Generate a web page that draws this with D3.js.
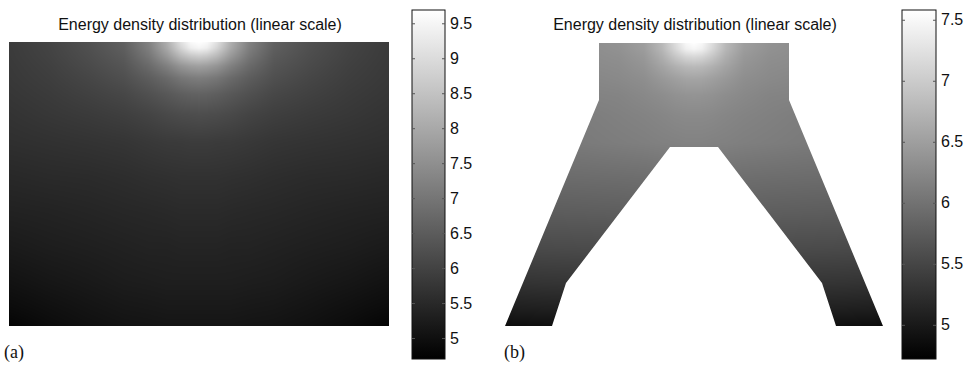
<!DOCTYPE html>
<html>
<head>
<meta charset="utf-8">
<script src="https://cdn.jsdelivr.net/npm/d3@7"></script>
<style>
  body { margin: 0; background: #fff; }
  svg text { font-family: "Liberation Sans", Arial, Helvetica, sans-serif; }
</style>
</head>
<body>
<div id="chart"></div>
<script>
// grid node positions (mm), x measured from the centre line, y downward from the top face
const gridX = [-19, -15, -11, -7.5, -5, -3.2, -1.8, -0.8, 0, 0.8, 1.8, 3.2, 5, 7.5, 11, 15, 19];
const gridY = [0, 0.6, 1.4, 2.4, 3.6, 5.2, 7.2, 10, 13.5, 17, 20.5, 24, 26.5, 28.4];

// energy density, panel (a) - rectangular block
const energyA = [
  [5.87,6.03,6.27,6.58,7.24,8.12,9.10,9.59,9.69,9.59,9.10,8.12,7.24,6.58,6.27,6.03,5.87],
  [5.85,6.01,6.25,6.54,7.17,7.99,8.85,9.36,9.49,9.36,8.85,7.99,7.17,6.54,6.25,6.01,5.85],
  [5.84,5.99,6.21,6.46,7.01,7.67,8.32,8.61,8.71,8.61,8.32,7.67,7.01,6.46,6.21,5.99,5.84],
  [5.82,5.95,6.15,6.36,6.77,7.20,7.60,7.77,7.83,7.77,7.60,7.20,6.77,6.36,6.15,5.95,5.82],
  [5.80,5.91,6.07,6.25,6.52,6.77,7.01,7.11,7.15,7.11,7.01,6.77,6.52,6.25,6.07,5.91,5.80],
  [5.76,5.85,5.97,6.09,6.27,6.42,6.54,6.60,6.62,6.60,6.54,6.42,6.27,6.09,5.97,5.85,5.76],
  [5.70,5.78,5.85,5.93,6.03,6.13,6.19,6.21,6.23,6.21,6.19,6.13,6.03,5.93,5.85,5.78,5.70],
  [5.62,5.66,5.70,5.74,5.80,5.84,5.85,5.87,5.87,5.87,5.85,5.84,5.80,5.74,5.70,5.66,5.62],
  [5.48,5.52,5.54,5.58,5.62,5.64,5.66,5.66,5.66,5.66,5.66,5.64,5.62,5.58,5.54,5.52,5.48],
  [5.35,5.38,5.42,5.46,5.48,5.50,5.52,5.52,5.52,5.52,5.52,5.50,5.48,5.46,5.42,5.38,5.35],
  [5.21,5.27,5.31,5.35,5.38,5.38,5.40,5.40,5.40,5.40,5.40,5.38,5.38,5.35,5.31,5.27,5.21],
  [5.05,5.13,5.19,5.25,5.27,5.29,5.29,5.29,5.29,5.29,5.29,5.29,5.27,5.25,5.19,5.13,5.05],
  [4.92,5.01,5.09,5.15,5.17,5.19,5.19,5.19,5.19,5.19,5.19,5.19,5.17,5.15,5.09,5.01,4.92],
  [4.78,4.92,5.01,5.07,5.09,5.11,5.11,5.11,5.11,5.11,5.11,5.11,5.09,5.07,5.01,4.92,4.78]
];

// energy density, panel (b) - stepped profile
const energyB = [
  [6.29,6.29,6.30,6.36,6.49,6.79,7.21,7.50,7.58,7.50,7.21,6.79,6.49,6.36,6.30,6.29,6.29],
  [6.28,6.28,6.29,6.35,6.47,6.76,7.14,7.41,7.48,7.41,7.14,6.76,6.47,6.35,6.29,6.28,6.28],
  [6.27,6.27,6.28,6.32,6.42,6.66,6.94,7.09,7.13,7.09,6.94,6.66,6.42,6.32,6.28,6.27,6.27],
  [6.25,6.25,6.26,6.29,6.37,6.54,6.69,6.77,6.79,6.77,6.69,6.54,6.37,6.29,6.26,6.25,6.25],
  [6.21,6.21,6.22,6.26,6.31,6.42,6.50,6.55,6.56,6.55,6.50,6.42,6.31,6.26,6.22,6.21,6.21],
  [6.17,6.17,6.18,6.20,6.25,6.30,6.35,6.37,6.38,6.37,6.35,6.30,6.25,6.20,6.18,6.17,6.17],
  [6.11,6.11,6.12,6.16,6.19,6.22,6.25,6.26,6.26,6.26,6.25,6.22,6.19,6.16,6.12,6.11,6.11],
  [6.07,6.07,6.09,6.12,6.14,6.16,6.17,6.18,6.18,6.18,6.17,6.16,6.14,6.12,6.09,6.07,6.07],
  [5.91,5.92,5.93,5.94,5.95,5.97,5.98,5.98,5.98,5.98,5.98,5.97,5.95,5.94,5.93,5.92,5.91],
  [5.74,5.75,5.76,5.77,5.79,5.79,5.80,5.80,5.80,5.80,5.80,5.79,5.79,5.77,5.76,5.75,5.74],
  [5.54,5.55,5.56,5.57,5.58,5.59,5.59,5.59,5.59,5.59,5.59,5.59,5.58,5.57,5.56,5.55,5.54],
  [5.28,5.30,5.31,5.33,5.34,5.35,5.35,5.35,5.35,5.35,5.35,5.35,5.34,5.33,5.31,5.30,5.28],
  [5.06,5.08,5.09,5.10,5.11,5.12,5.12,5.12,5.12,5.12,5.12,5.12,5.11,5.10,5.09,5.08,5.06],
  [4.85,4.88,4.89,4.90,4.91,4.92,4.92,4.92,4.92,4.92,4.92,4.92,4.91,4.90,4.89,4.88,4.85]
];

// outline of the stepped profile (mm)
const shapeB = [[-9.5,0],[9.5,0],[9.5,5.7],[18.9,28.3],[14.2,28.3],[12.8,24.0],[2.4,10.4],
  [-2.4,10.4],[-12.8,24.0],[-14.2,28.3],[-18.9,28.3],[-9.5,5.7]];

const rangeA = [4.70, 9.69];
const rangeB = [4.72, 7.58];
const ticksA = [5, 5.5, 6, 6.5, 7, 7.5, 8, 8.5, 9, 9.5];
const ticksB = [5, 5.5, 6, 6.5, 7, 7.5];
const titleText = "Energy density distribution (linear scale)";
const panelLabels = ["(a)", "(b)"];

const W = 968, H = 365;
const svg = d3.select("#chart").append("svg")
  .attr("width", W).attr("height", H);
const defs = svg.append("defs");

function locate(arr, v) {
  let i = d3.bisectRight(arr, v) - 1;
  i = Math.max(0, Math.min(arr.length - 2, i));
  let t = (v - arr[i]) / (arr[i + 1] - arr[i]);
  return [i, Math.max(0, Math.min(1, t))];
}

function drawPanel(p) {
  const x = d3.scaleLinear().domain([-19, 19]).range([p.x0, p.x1]);
  const y = d3.scaleLinear().domain([0, 28.4]).range([p.y0, p.y1]);
  const gray = d3.scaleLinear().domain(p.range).range([0, 255]).clamp(true);

  // shaded field (interpolated shading like the original)
  const w = Math.round(p.x1 - p.x0), h = Math.round(p.y1 - p.y0);
  const canvas = document.createElement("canvas");
  canvas.width = w; canvas.height = h;
  const ctx = canvas.getContext("2d");
  const img = ctx.createImageData(w, h);
  for (let j = 0; j < h; j++) {
    const [r, ty] = locate(gridY, y.invert(p.y0 + j + 0.5));
    for (let i = 0; i < w; i++) {
      const [c, tx] = locate(gridX, x.invert(p.x0 + i + 0.5));
      const v00 = p.values[r][c], v01 = p.values[r][c + 1];
      const v10 = p.values[r + 1][c], v11 = p.values[r + 1][c + 1];
      const v = (v00 * (1 - tx) + v01 * tx) * (1 - ty) + (v10 * (1 - tx) + v11 * tx) * ty;
      const g = Math.round(gray(v));
      const k = (j * w + i) * 4;
      img.data[k] = g; img.data[k + 1] = g; img.data[k + 2] = g; img.data[k + 3] = 255;
    }
  }
  ctx.putImageData(img, 0, 0);

  const field = svg.append("image")
    .attr("x", p.x0).attr("y", p.y0)
    .attr("width", w).attr("height", h)
    .attr("preserveAspectRatio", "none")
    .attr("href", canvas.toDataURL());

  if (p.shape) {
    defs.append("clipPath").attr("id", "clip-" + p.id)
      .append("path")
      .attr("d", d3.line().x(d => x(d[0])).y(d => y(d[1]))(p.shape) + "Z");
    field.attr("clip-path", "url(#clip-" + p.id + ")");
  }

  // title
  svg.append("text")
    .attr("x", p.titleX).attr("y", 30)
    .attr("text-anchor", "middle")
    .attr("font-size", 16)
    .attr("fill", "#111")
    .text(titleText);

  // colour bar
  const cb = d3.scaleLinear().domain(p.range).range([359, 10]);
  const grad = defs.append("linearGradient").attr("id", "grad-" + p.id)
    .attr("x1", 0).attr("x2", 0).attr("y1", 1).attr("y2", 0);
  grad.append("stop").attr("offset", 0).attr("stop-color", d3.rgb(gray(p.range[0]), gray(p.range[0]), gray(p.range[0])));
  grad.append("stop").attr("offset", 1).attr("stop-color", d3.rgb(gray(p.range[1]), gray(p.range[1]), gray(p.range[1])));

  svg.append("rect")
    .attr("x", p.bar0).attr("y", cb.range()[1])
    .attr("width", p.bar1 - p.bar0)
    .attr("height", cb.range()[0] - cb.range()[1])
    .attr("fill", "url(#grad-" + p.id + ")")
    .attr("stroke", "#111").attr("stroke-width", 1);

  const right = svg.append("g")
    .attr("transform", `translate(${p.bar1},0)`)
    .call(d3.axisRight(cb).tickValues(p.ticks).tickFormat(d3.format(""))
      .tickSizeInner(-3).tickSizeOuter(0).tickPadding(5));
  right.select(".domain").remove();
  right.selectAll("line").attr("stroke", "#555");
  right.selectAll("text")
    .attr("font-size", 16)
    .attr("font-family", "Liberation Sans, Arial, sans-serif")
    .attr("fill", "#111");

  const left = svg.append("g")
    .attr("transform", `translate(${p.bar0},0)`)
    .call(d3.axisLeft(cb).tickValues(p.ticks).tickFormat("")
      .tickSizeInner(-3).tickSizeOuter(0));
  left.select(".domain").remove();
  left.selectAll("line").attr("stroke", "#555");

  // panel label
  svg.append("text")
    .attr("x", p.labelX).attr("y", 358)
    .attr("font-size", 18)
    .attr("font-family", "Liberation Serif, Times New Roman, serif")
    .style("font-family", "'Liberation Serif', 'Times New Roman', serif")
    .attr("fill", "#111")
    .text(p.label);
}

drawPanel({ id: "a", values: energyA, range: rangeA, ticks: ticksA,
  x0: 9, x1: 389, y0: 42, y1: 326, titleX: 200,
  bar0: 412, bar1: 445, labelX: 4, label: panelLabels[0] });

drawPanel({ id: "b", values: energyB, range: rangeB, ticks: ticksB, shape: shapeB,
  x0: 504, x1: 884, y0: 43, y1: 327, titleX: 695,
  bar0: 902, bar1: 936, labelX: 504, label: panelLabels[1] });
</script>
</body>
</html>
